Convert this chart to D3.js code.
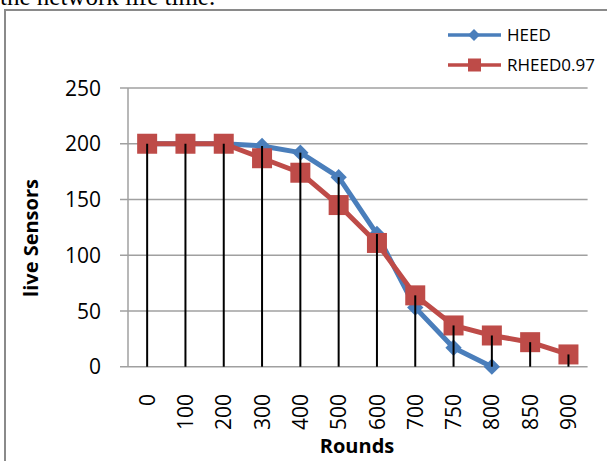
<!DOCTYPE html>
<html><head><meta charset="utf-8">
<script src="https://cdn.jsdelivr.net/npm/d3@7"></script>
<style>body{margin:0;background:#fff}svg{display:block}</style>
</head><body>
<script>
const categories = ["0","100","200","300","400","500","600","700","750","800","850","900"];
const heed = [200,200,200,198,192,170,119,53,17,0,null,null];
const rheed = [200,200,200,187,174,145,111,64,37,28,22,11];
const yTicks = [0,50,100,150,200,250];
const seriesNames = ["HEED","RHEED0.97"];

const W=607,H=461;
const svg=d3.select("body").append("svg").attr("width",W).attr("height",H);
const font="'Open Sans', sans-serif";

// caption remnant at top
svg.append("text").attr("x",0).attr("y",5).attr("font-family","'Liberation Serif', serif").attr("font-size",25).attr("fill","#000").text("the network life time.");
// frame
svg.append("rect").attr("x",5).attr("y",10).attr("width",W+20).attr("height",H+20).attr("fill","none").attr("stroke","#8a8a8a").attr("stroke-width",2);

const x=d3.scaleBand().domain(categories).range([128,587.6]);
const y=d3.scaleLinear().domain([0,250]).range([366.7,88]);

// gridlines
svg.append("g").selectAll("line").data(yTicks).join("line")
 .attr("x1",120).attr("x2",587.6).attr("y1",d=>y(d)).attr("y2",d=>y(d))
 .attr("stroke","#a0a0a0").attr("stroke-width",1.5);
// y axis line
svg.append("line").attr("x1",128).attr("x2",128).attr("y1",y(250)).attr("y2",y(0)).attr("stroke","#a0a0a0").attr("stroke-width",1.5);
// y labels
svg.append("g").selectAll("text").data(yTicks).join("text")
 .attr("x",101).attr("y",d=>y(d)).attr("dy","0.36em").attr("text-anchor","end")
 .attr("font-family",font).attr("font-size",21).attr("fill","#000").text(d=>d);
// y title
svg.append("text").attr("transform","translate(31,238) rotate(-90)").attr("text-anchor","middle").attr("dy","0.35em")
 .attr("font-family",font).attr("font-size",20).attr("font-weight","bold").text("live Sensors");

const cx=c=>x(c)+x.bandwidth()/2;
const dropTop=(c,i)=>y(d3.max([heed[i],rheed[i]].filter(v=>v!=null)));

// x labels
svg.append("g").selectAll("text").data(categories).join("text")
 .attr("transform",c=>`translate(${cx(c)},394) rotate(-90)`).attr("dy","0.36em").attr("text-anchor","end")
 .attr("font-family",font).attr("font-size",21).attr("fill","#000").text(c=>c);
svg.append("text").attr("x",357).attr("y",453).attr("text-anchor","middle")
 .attr("font-family",font).attr("font-size",20).attr("font-weight","bold").text("Rounds");

const blue="#4a7ebb", red="#be4b48";
const line=d3.line().x(d=>cx(d.c)).y(d=>y(d.v));
const hd=categories.map((c,i)=>({c,v:heed[i]})).filter(d=>d.v!=null);
const rd=categories.map((c,i)=>({c,v:rheed[i]}));

svg.append("path").datum(hd).attr("d",line).attr("fill","none").attr("stroke",blue).attr("stroke-width",5).attr("stroke-linejoin","round");
const diamond=d3.symbol().type(d3.symbolDiamond2).size(170);
svg.append("g").selectAll("path").data(hd).join("path")
 .attr("transform",d=>`translate(${cx(d.c)},${y(d.v)})`).attr("d",diamond).attr("fill",blue);

svg.append("path").datum(rd).attr("d",line).attr("fill","none").attr("stroke",red).attr("stroke-width",5).attr("stroke-linejoin","round");
svg.append("g").selectAll("rect").data(rd).join("rect")
 .attr("x",d=>cx(d.c)-10).attr("y",d=>y(d.v)-10).attr("width",20).attr("height",20).attr("fill",red);

// drop lines (drawn on top of markers)
svg.append("g").selectAll("line").data(categories).join("line")
 .attr("x1",cx).attr("x2",cx).attr("y1",dropTop)
 .attr("y2",y(0)).attr("stroke","#000").attr("stroke-width",2);

// legend
const lg=svg.append("g");
[[blue,seriesNames[0],35],[red,seriesNames[1],65]].forEach(([col,name,ly],i)=>{
  lg.append("line").attr("x1",448).attr("x2",501).attr("y1",ly).attr("y2",ly).attr("stroke",col).attr("stroke-width",3.5);
  if(i===0) lg.append("path").attr("transform",`translate(474,${ly})`).attr("d",d3.symbol().type(d3.symbolDiamond2).size(90)).attr("fill",col);
  else lg.append("rect").attr("x",468).attr("y",ly-6.5).attr("width",13).attr("height",13).attr("fill",col);
  lg.append("text").attr("x",507).attr("y",ly).attr("dy","0.36em").attr("font-family",font).attr("font-size",17).attr("fill","#000").text(name);
});
</script>
</body></html>
